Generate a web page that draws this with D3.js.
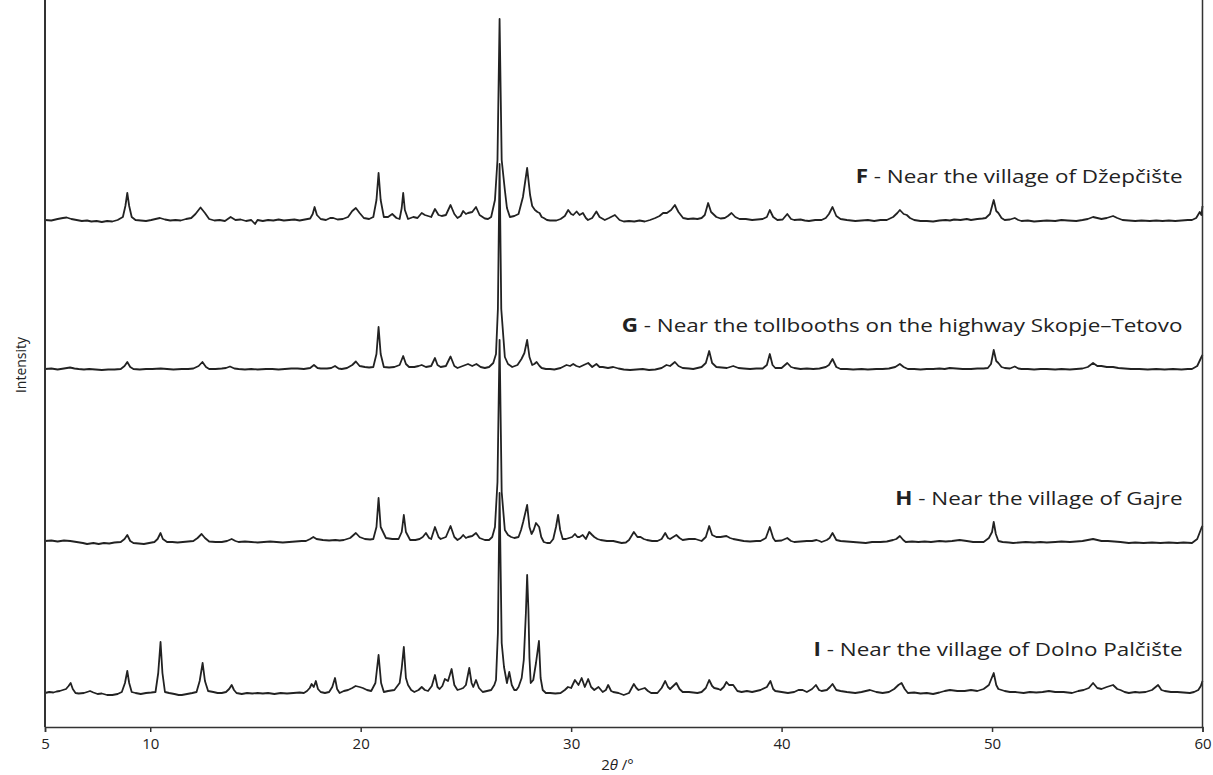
<!DOCTYPE html>
<html>
<head>
<meta charset="utf-8">
<script src="https://cdn.jsdelivr.net/npm/d3@7"></script>
<style>
  body { margin: 0; background: #fff; }
  text { font-family: "Open Sans", "Noto Sans", sans-serif; fill: #222; }
</style>
</head>
<body>
<div id="chart"></div>
<script>
// Data: [2theta (deg), intensity above the trace's own baseline]
var traceF = [[5.0,0],[5.3,-0.5],[5.6,1],[5.85,2],[6.03,2.5],[6.25,1],[6.5,0],[6.75,-1],[7.0,-0.5],[7.2,-1.5],[7.45,-1],[7.7,-2],[7.95,-1],[8.2,-1.5],[8.45,0],[8.7,3],[8.82,14],[8.91,27],[9.0,14],[9.12,3],[9.3,0],[9.55,-0.5],[9.8,-1],[10.05,0],[10.25,1],[10.46,2],[10.7,0.5],[10.95,-0.5],[11.2,0],[11.45,-0.5],[11.7,1],[11.95,2],[12.15,6],[12.39,12.5],[12.6,7],[12.8,1],[13.05,-0.5],[13.3,0],[13.55,-1],[13.82,3],[14.05,0],[14.3,0.5],[14.55,-1],[14.8,0],[14.98,-4],[15.1,0],[15.35,-1],[15.6,0],[15.85,-0.5],[16.1,0.5],[16.35,-0.5],[16.6,0],[16.85,0.5],[17.1,-0.5],[17.35,0.5],[17.6,1.5],[17.72,6],[17.81,13],[17.92,5],[18.1,1],[18.35,0],[18.55,2],[18.7,2],[18.9,0.5],[19.15,1],[19.4,3],[19.6,9],[19.77,12],[19.95,7],[20.15,2],[20.4,1],[20.6,3],[20.75,20],[20.85,47],[20.95,20],[21.1,3],[21.3,3],[21.5,6],[21.7,2],[21.85,1],[21.95,12],[22.02,27],[22.1,10],[22.25,1],[22.5,3],[22.7,2],[22.9,7],[23.05,5],[23.2,4],[23.35,3],[23.53,11],[23.7,5],[23.85,4],[24.05,5],[24.27,15],[24.45,6],[24.6,2],[24.75,4],[24.87,9],[25.0,6],[25.1,7],[25.3,8],[25.48,13],[25.65,5],[25.9,1.5],[26.05,1],[26.2,3],[26.38,20],[26.5,60],[26.6,201],[26.7,60],[26.85,30],[26.95,12],[27.09,3],[27.3,4],[27.5,6],[27.71,23],[27.91,52],[28.05,25],[28.15,14],[28.28,10],[28.4,8],[28.5,7],[28.6,3],[28.7,2],[28.85,0],[29.0,-0.5],[29.3,-0.5],[29.5,1],[29.7,4],[29.86,10],[30.0,6],[30.1,5],[30.26,8.5],[30.4,5],[30.56,7],[30.7,2],[30.8,0],[31.0,2],[31.2,8.5],[31.35,3],[31.6,0],[31.8,2],[32.08,5],[32.3,0],[32.5,-1.5],[32.75,-1],[33.0,-1.5],[33.25,-0.5],[33.5,-1.5],[33.75,0],[34.0,2],[34.2,4],[34.37,7],[34.55,7],[34.75,10],[34.93,15],[35.1,8],[35.32,2],[35.55,1],[35.8,1.5],[36.0,1],[36.2,2],[36.35,5],[36.51,17],[36.65,8],[36.9,3],[37.1,1.5],[37.3,2],[37.45,4],[37.62,7],[37.8,3],[38.0,1],[38.3,1],[38.6,0],[38.85,0.5],[39.1,1],[39.3,3],[39.44,10],[39.6,3],[39.8,0],[40.05,0.5],[40.27,6],[40.45,1],[40.6,0],[40.9,0.5],[41.1,-0.5],[41.3,-1],[41.6,0],[41.9,0],[42.1,2],[42.25,6],[42.42,13],[42.6,4],[42.8,1],[43.1,0],[43.5,-1],[43.8,-0.5],[44.1,0],[44.4,-1],[44.7,0],[45.0,0],[45.2,2],[45.3,3],[45.5,7],[45.62,10],[45.8,6],[45.95,5],[46.1,2],[46.3,0],[46.6,-1],[46.9,-1],[47.2,-1.5],[47.5,-0.5],[47.8,0],[48.0,-0.5],[48.2,0.5],[48.5,0],[48.8,1],[49.0,0],[49.3,1],[49.55,1.5],[49.7,2],[49.9,6],[50.08,20],[50.2,9],[50.3,7],[50.45,2],[50.6,0],[50.85,0.5],[51.08,2],[51.25,0],[51.4,-1],[51.7,-0.5],[52.0,-1.5],[52.3,-1],[52.6,-0.5],[53.0,-1],[53.3,0],[53.6,-0.5],[54.0,-1],[54.3,0],[54.55,1],[54.8,3],[55.0,2],[55.2,1],[55.45,2],[55.75,4],[55.95,2],[56.2,0],[56.5,-0.5],[56.8,-1],[57.1,-0.5],[57.5,-1],[57.8,-0.5],[58.1,-1],[58.4,-0.5],[58.7,-1],[59.0,-0.5],[59.3,0],[59.5,0],[59.7,2],[59.87,8],[59.95,5],[60.0,14]];

var traceG = [[5.0,0],[5.3,0.5],[5.6,-0.5],[5.9,0.5],[6.19,1.5],[6.4,0.5],[6.6,0],[6.85,-0.5],[7.1,0],[7.4,-0.5],[7.7,-1],[8.0,-0.5],[8.3,-0.5],[8.6,0],[8.78,3],[8.91,7],[9.05,2],[9.2,0],[9.5,-0.5],[9.8,0],[10.1,0],[10.5,0.5],[10.8,0],[11.1,-0.5],[11.5,0],[11.8,0],[12.05,0.5],[12.3,3],[12.48,7],[12.65,2],[12.8,0],[13.1,0],[13.4,0.5],[13.6,1],[13.79,2.5],[14.0,0.5],[14.2,0],[14.5,-0.5],[14.8,0],[15.1,-0.5],[15.5,0],[15.8,0],[16.1,-0.5],[16.4,0],[16.7,0.5],[17.0,0.5],[17.3,0],[17.6,1],[17.78,4],[17.95,1],[18.1,0.5],[18.4,0.5],[18.6,1],[18.78,3],[18.95,0.5],[19.1,0],[19.35,1],[19.6,4],[19.77,7.5],[19.95,3],[20.2,2],[20.4,1.5],[20.6,2],[20.75,15],[20.85,42],[20.95,15],[21.1,2],[21.35,1.5],[21.6,2],[21.85,4],[22.02,13],[22.15,5],[22.3,2],[22.55,2],[22.75,3],[22.9,4],[23.1,2],[23.35,3],[23.53,11],[23.65,4],[23.8,2],[24.05,3],[24.27,12.5],[24.45,3],[24.6,1],[24.85,3],[25.1,5],[25.3,3],[25.5,5],[25.7,2],[25.9,1],[26.1,2],[26.3,6],[26.43,15],[26.52,60],[26.6,205],[26.68,60],[26.85,12],[27.0,5],[27.2,2],[27.45,4],[27.64,10],[27.78,16],[27.91,29],[28.02,12],[28.15,4],[28.25,5],[28.36,7],[28.5,3],[28.6,1],[28.8,0],[29.0,0],[29.2,-0.5],[29.5,1],[29.78,4],[29.95,3],[30.1,5],[30.25,3],[30.4,2],[30.6,4],[30.81,6],[31.0,2],[31.2,5],[31.35,2],[31.5,2],[31.75,1],[32.0,2],[32.25,0.5],[32.5,-0.5],[32.8,-1],[33.1,-0.5],[33.4,0],[33.7,-1],[34.0,-0.5],[34.3,1],[34.53,4],[34.7,3],[34.93,7],[35.1,3],[35.3,1],[35.6,0.5],[35.8,0],[36.0,1],[36.2,2],[36.4,6],[36.56,18],[36.7,6],[36.9,2],[37.15,1.5],[37.4,1],[37.7,3],[37.95,1],[38.2,0.5],[38.5,0],[38.8,0.5],[39.1,0.5],[39.3,4],[39.44,15],[39.57,4],[39.7,1],[40.0,1],[40.27,6],[40.45,2],[40.6,1],[40.9,0],[41.2,0.5],[41.5,0],[41.8,0.5],[42.1,2],[42.25,4],[42.42,10],[42.6,2],[42.8,0],[43.1,0],[43.4,-0.5],[43.8,0],[44.1,-0.5],[44.5,0],[44.8,0],[45.1,0.5],[45.4,2],[45.62,5],[45.8,2],[46.0,0],[46.3,0],[46.6,-0.5],[46.9,0],[47.2,0],[47.5,0.5],[47.75,0],[47.99,1],[48.3,0.5],[48.6,0],[49.0,0],[49.3,0.5],[49.6,0.5],[49.8,1],[49.95,5],[50.08,19],[50.2,8],[50.3,6],[50.45,2],[50.6,1],[50.85,0.5],[51.08,2.5],[51.25,0.5],[51.4,0],[51.7,0],[52.0,-0.5],[52.3,0],[52.6,0],[53.0,-0.5],[53.3,0],[53.7,-0.5],[54.0,0],[54.3,0.5],[54.55,2],[54.8,6],[55.0,3],[55.2,3],[55.45,2],[55.75,2],[56.0,1],[56.3,0.5],[56.6,0],[57.0,0],[57.4,-0.5],[57.8,0],[58.2,-0.5],[58.6,0],[59.0,-0.5],[59.3,0],[59.5,0],[59.75,3],[59.95,12],[60.0,14]];

var traceH = [[5.0,1],[5.3,1.5],[5.6,0.5],[5.9,1.5],[6.2,1],[6.5,0],[6.8,-1],[7.0,-2],[7.3,-1],[7.55,-2],[7.8,-1],[8.05,-1.5],[8.3,-0.5],[8.6,0],[8.78,3],[8.91,7],[9.05,1],[9.2,-1],[9.45,-1.5],[9.7,-2],[9.95,-1],[10.2,0],[10.35,3],[10.49,9],[10.6,3],[10.8,0],[11.05,0],[11.3,-0.5],[11.55,0],[11.8,0.5],[12.05,1],[12.25,4],[12.44,8],[12.6,4],[12.8,0.5],[13.1,0],[13.4,0],[13.65,1],[13.87,3],[14.05,1],[14.2,0],[14.5,0.5],[14.8,0],[15.1,-0.5],[15.4,0],[15.7,0.5],[16.0,0],[16.3,-0.5],[16.6,0],[16.9,0.5],[17.2,1],[17.4,1],[17.6,3],[17.75,5],[17.9,3],[18.2,2],[18.5,1.5],[18.8,2],[19.0,1.5],[19.2,2],[19.5,4],[19.77,9],[19.95,5],[20.2,3],[20.45,2.5],[20.6,3],[20.75,15],[20.85,44],[20.95,15],[21.2,4],[21.5,3],[21.8,3],[21.95,10],[22.05,27],[22.15,10],[22.35,2],[22.6,2],[22.8,3],[22.95,5],[23.1,9],[23.25,4],[23.35,3],[23.53,15],[23.7,5],[23.8,3],[24.05,5],[24.27,16],[24.45,5],[24.6,2],[24.75,4],[24.87,7],[25.0,4],[25.1,5],[25.3,6],[25.48,9],[25.65,4],[25.9,2],[26.1,2],[26.25,5],[26.38,15],[26.5,60],[26.6,202],[26.7,50],[26.85,12],[27.0,7],[27.15,5],[27.3,4],[27.5,5],[27.62,12],[27.72,20],[27.91,37],[28.02,15],[28.12,8],[28.22,12],[28.33,19],[28.48,15],[28.58,5],[28.7,0],[28.85,-1],[29.0,-1],[29.15,3],[29.28,15],[29.38,27],[29.48,12],[29.6,3],[29.75,3],[29.9,4],[30.05,5],[30.18,8],[30.3,5],[30.4,5],[30.55,7],[30.7,3],[30.86,10],[31.0,7],[31.1,5],[31.25,3],[31.4,2],[31.7,1],[32.0,1],[32.2,0],[32.4,-1],[32.6,-0.5],[32.75,2],[32.98,10],[33.15,5],[33.3,5],[33.45,3],[33.6,2],[33.85,1],[34.1,1],[34.3,3],[34.47,9],[34.6,4],[34.7,3],[34.85,5],[35.0,7],[35.15,4],[35.3,2],[35.6,3],[35.9,3],[36.2,1],[36.4,5],[36.56,16],[36.7,7],[36.9,5],[37.1,5],[37.38,6],[37.55,4],[37.7,3],[37.95,2],[38.2,1],[38.5,0.5],[38.8,1],[39.0,1],[39.25,4],[39.44,15],[39.6,4],[39.7,1],[40.0,1.5],[40.27,4],[40.45,1],[40.6,0],[40.9,0.5],[41.2,1],[41.45,1],[41.66,2],[41.8,1],[41.9,0],[42.15,2],[42.28,4],[42.42,9],[42.6,2],[42.8,1],[43.1,0.5],[43.4,0],[43.7,-0.5],[44.0,-1],[44.3,0],[44.7,0],[45.0,0.5],[45.3,2],[45.45,3],[45.62,6],[45.78,2],[45.9,0],[46.2,0.5],[46.5,0],[46.8,0.5],[47.1,0],[47.5,1],[47.8,0.5],[48.1,1],[48.46,2],[48.8,1],[49.1,0],[49.4,0],[49.6,0],[49.85,4],[50.0,10],[50.08,20],[50.18,8],[50.3,1],[50.5,0],[50.8,-0.5],[51.0,-1],[51.3,-0.5],[51.6,0],[52.0,-0.5],[52.3,0],[52.6,-0.5],[53.0,0],[53.3,0.5],[53.7,0],[54.0,0.5],[54.3,1],[54.55,2],[54.8,3],[55.0,2],[55.2,1],[55.5,1],[55.8,0.5],[56.1,0],[56.5,-1],[56.8,-0.5],[57.2,-1],[57.6,-0.5],[58.0,-1],[58.4,-0.5],[58.8,-1],[59.1,-0.5],[59.5,-1],[59.75,3],[59.95,14],[60.0,16]];

var traceI = [[5.0,0],[5.2,1],[5.4,0.5],[5.55,1.5],[5.7,2],[5.85,3],[6.0,4],[6.12,7],[6.22,10],[6.32,4],[6.45,0],[6.6,-0.5],[6.85,0],[7.0,1],[7.14,2],[7.3,0.5],[7.5,-1],[7.7,-0.5],[7.95,-2],[8.2,-2],[8.45,-1],[8.65,1],[8.8,10],[8.91,22],[9.0,10],[9.12,1],[9.3,0],[9.55,-1],[9.8,0],[10.05,0.5],[10.25,1],[10.38,20],[10.49,51],[10.58,20],[10.7,1],[10.9,0],[11.15,-1],[11.35,-2],[11.5,-2],[11.75,-1],[12.0,0],[12.2,1],[12.35,12],[12.49,30],[12.6,12],[12.75,2],[13.0,1],[13.2,0],[13.4,0],[13.6,1],[13.75,4],[13.87,8],[13.98,3],[14.1,0],[14.35,-1],[14.6,0],[14.85,-0.5],[15.1,0],[15.35,-0.5],[15.6,0],[15.9,-1],[16.2,0],[16.5,-0.5],[16.8,0],[17.1,0.5],[17.3,0],[17.45,2],[17.58,5],[17.67,9],[17.77,6],[17.87,12],[17.97,4],[18.1,1],[18.3,0],[18.5,1],[18.65,6],[18.78,15],[18.88,4],[19.0,0],[19.2,2],[19.4,3],[19.6,5],[19.76,7],[19.95,6],[20.1,5],[20.3,3],[20.5,2],[20.7,10],[20.85,38],[20.97,10],[21.1,1],[21.3,2],[21.6,3],[21.85,10],[21.95,25],[22.05,46],[22.15,15],[22.25,8],[22.4,3],[22.55,1],[22.75,3],[22.9,6],[23.05,3],[23.2,2],[23.38,7],[23.53,18],[23.65,6],[23.75,4],[23.88,7],[24.0,14],[24.15,12],[24.32,24],[24.45,8],[24.6,3],[24.75,4],[24.87,5],[25.0,8],[25.16,25],[25.27,10],[25.35,6],[25.48,13],[25.62,5],[25.8,1],[26.0,2],[26.2,3],[26.35,8],[26.43,13],[26.52,60],[26.6,200],[26.7,50],[26.81,26],[26.95,10],[27.06,21],[27.18,8],[27.3,3],[27.4,3],[27.5,6],[27.65,15],[27.75,33],[27.85,80],[27.91,118],[27.97,83],[28.02,35],[28.08,10],[28.2,13],[28.33,30],[28.47,52],[28.55,15],[28.65,3],[28.8,0],[29.0,0],[29.25,-0.5],[29.5,0],[29.7,3],[29.85,6],[30.0,5],[30.18,13],[30.35,8],[30.5,15],[30.65,6],[30.81,14],[30.95,6],[31.1,3],[31.3,6],[31.5,1],[31.65,3],[31.76,8],[31.9,2],[32.0,1],[32.25,0],[32.5,-2],[32.75,0],[32.98,9],[33.1,5],[33.2,3],[33.35,4],[33.5,5],[33.65,2],[33.8,0],[34.1,0],[34.3,5],[34.47,12],[34.6,6],[34.7,4],[34.85,7],[35.0,10],[35.15,4],[35.3,1],[35.6,1],[35.8,0.5],[36.0,0],[36.2,1],[36.4,5],[36.56,13],[36.7,7],[36.8,5],[37.0,4],[37.1,3],[37.25,6],[37.38,11],[37.5,8],[37.7,8],[37.9,2],[38.1,1],[38.35,2],[38.6,1],[38.8,2],[39.0,3],[39.3,6],[39.47,12],[39.6,4],[39.7,2],[40.0,1],[40.3,0],[40.6,1],[40.8,3],[41.0,3],[41.2,1],[41.45,4],[41.63,8],[41.78,3],[41.9,2],[42.15,3],[42.3,6],[42.42,9],[42.6,3],[42.8,2],[43.1,1],[43.5,0],[43.8,1],[44.0,2],[44.2,3],[44.5,1],[44.8,0],[45.1,1],[45.35,4],[45.55,8],[45.7,10],[45.85,4],[46.0,0],[46.3,0.5],[46.6,-0.5],[46.9,0],[47.2,-1],[47.5,0.5],[47.75,2],[48.0,3],[48.35,2],[48.7,2],[49.0,3],[49.3,2],[49.6,4],[49.85,8],[50.08,20],[50.2,8],[50.3,4],[50.45,3],[50.6,2],[50.85,1],[51.1,1],[51.5,0],[51.8,1],[52.1,0.5],[52.4,1],[52.7,2],[53.0,1],[53.4,1],[53.8,0],[54.1,2],[54.35,3],[54.6,5],[54.8,10],[55.0,5],[55.2,4],[55.45,6],[55.75,8],[55.95,4],[56.1,3],[56.3,1],[56.5,0],[56.8,1],[57.0,0.5],[57.3,1],[57.6,3],[57.89,8],[58.05,3],[58.2,2],[58.5,1],[58.8,1],[59.1,0.5],[59.4,0],[59.6,1],[59.8,3],[59.92,7],[60.0,12]];

// vertical offset of each trace (stacked plot), sample letters and descriptions
var traceOffsets = [507, 358, 185, 34];
var sampleLetters = ["F", "G", "H", "I"];
var sampleNames = [
    " - Near the village of Džepčište",
    " - Near the tollbooths on the highway Skopje–Tetovo",
    " - Near the village of Gajre",
    " - Near the village of Dolno Palčište"
];
var xTicks = [5, 10, 20, 30, 40, 50, 60];

var margin = {top: 0, right: 10, bottom: 48, left: 45},
    width = 1213 - margin.left - margin.right,
    height = 775 - margin.top - margin.bottom;

var svg = d3.select("#chart")
    .append("svg")
    .attr("width", width + margin.left + margin.right)
    .attr("height", height + margin.top + margin.bottom)
    .append("g")
    .attr("transform", "translate(" + margin.left + "," + margin.top + ")");

var x = d3.scaleLinear().domain([5, 60]).range([0, width - 0.5]);
var y = d3.scaleLinear().domain([0, height]).range([height, 0]);

var traces = [traceF, traceG, traceH, traceI];

var line = d3.line()
    .x(d => x(d[0]))
    .y(d => y(d[1]));

traces.forEach(function(t, i) {
    var off = traceOffsets[i];
    svg.append("path")
        .datum(t.map(d => [d[0], d[1] + off]))
        .attr("d", line)
        .attr("fill", "none")
        .attr("stroke", "#222")
        .attr("stroke-width", 1.8)
        .attr("stroke-linejoin", "round");

    // label, stretched sideways like the original lettering
    var lbl = svg.append("text")
        .attr("transform", "translate(" + x(59.05) + "," + (y(off) - 37) + ") scale(1.18,1)")
        .attr("text-anchor", "end")
        .style("font-size", "19px");
    lbl.append("tspan").attr("font-weight", "bold").text(sampleLetters[i]);
    lbl.append("tspan").text(sampleNames[i]);
});

// axes
var xAxis = svg.append("g")
    .attr("transform", "translate(0," + height + ")")
    .call(d3.axisBottom(x).tickValues(xTicks).tickSize(5).tickFormat(d3.format("d")));
xAxis.selectAll("text").style("font-size", "15px").attr("dy", "0.95em");
xAxis.selectAll("line, path").attr("stroke", "#333").attr("stroke-width", 1.5);

svg.append("line")
    .attr("x1", 0).attr("x2", 0)
    .attr("y1", 0).attr("y2", height)
    .attr("stroke", "#333").attr("stroke-width", 2);
svg.append("line")
    .attr("x1", x(60)).attr("x2", x(60))
    .attr("y1", 0).attr("y2", height)
    .attr("stroke", "#333").attr("stroke-width", 1.5);

// axis labels
var xl = svg.append("text")
    .attr("text-anchor", "middle")
    .attr("x", x(32.2))
    .attr("y", height + 43)
    .style("font-size", "15px");
xl.append("tspan").text("2");
xl.append("tspan").style("font-style", "italic").text("θ");
xl.append("tspan").text(" /°");

svg.append("text")
    .attr("text-anchor", "middle")
    .attr("transform", "rotate(-90)")
    .attr("x", -365)
    .attr("y", -19)
    .style("font-size", "14px")
    .text("Intensity");
</script>
</body>
</html>
